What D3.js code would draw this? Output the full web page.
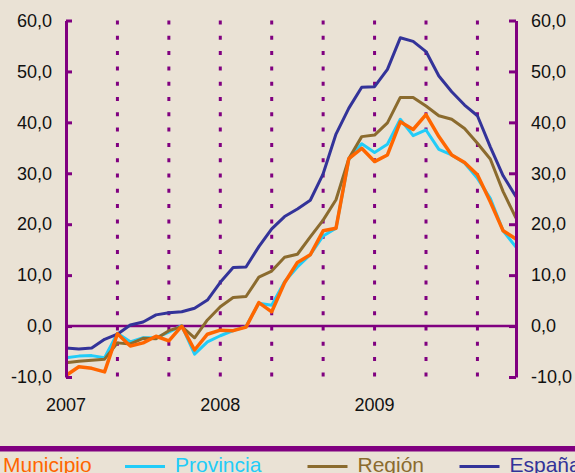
<!doctype html>
<html lang="es">
<head>
  <meta charset="utf-8">
  <title>Variación interanual</title>
  <script src="https://cdnjs.cloudflare.com/ajax/libs/d3/7.8.5/d3.min.js"></script>
  <style>
    body { margin: 0; background: #EAE2D5; overflow: hidden; }
    svg { display: block; font-family: "Liberation Sans", Arial, sans-serif; }
  </style>
</head>
<body>
  <svg width="575" height="473" id="svg"></svg>

<script type="text/javascript">

  // months jan 2007 .. dec 2009
  var months = ["ene-07","feb-07","mar-07","abr-07","may-07","jun-07","jul-07","ago-07","sep-07","oct-07","nov-07","dic-07",
                "ene-08","feb-08","mar-08","abr-08","may-08","jun-08","jul-08","ago-08","sep-08","oct-08","nov-08","dic-08",
                "ene-09","feb-09","mar-09","abr-09","may-09","jun-09","jul-09","ago-09","sep-09","oct-09","nov-09","dic-09"];

  var yearLabels = ["2007", "2008", "2009"];
  var yearMonths = ["ene-07", "ene-08", "ene-09"];
  var gridMonths = ["may-07","sep-07","ene-08","may-08","sep-08","ene-09","may-09","sep-09"];
  var yTicks = [-10, 0, 10, 20, 30, 40, 50, 60];

  var municipio = [-9.7, -8.0, -8.3, -9.0, -1.5, -3.9, -3.3, -2.0, -2.9, 0.0, -4.7, -1.6,
                   -0.8, -0.9, -0.2, 4.6, 2.8, 8.5, 12.5, 14.0, 18.7, 19.2, 32.9, 34.9,
                   32.3, 33.6, 40.1, 38.6, 41.5, 37.2, 33.6, 32.1, 29.7, 24.4, 18.7, 17.1];
  var provincia = [-6.2, -5.9, -5.8, -6.2, -1.4, -3.1, -2.3, -2.3, -1.2, 0.1, -5.5, -3.1,
                   -1.9, -0.9, -0.1, 4.5, 4.1, 8.7, 11.6, 14.0, 17.7, 19.2, 32.7, 35.8,
                   34.1, 35.7, 40.6, 37.4, 38.5, 34.7, 33.6, 32.0, 29.0, 25.1, 18.7, 15.5];
  var region    = [-7.2, -6.9, -6.7, -6.5, -3.3, -3.5, -2.4, -2.5, -0.9, -0.1, -2.3, 1.2,
                   3.8, 5.6, 5.8, 9.6, 10.8, 13.5, 14.1, 17.5, 20.8, 24.8, 32.9, 37.2,
                   37.5, 39.9, 44.9, 44.9, 43.2, 41.3, 40.6, 38.8, 35.9, 32.8, 26.4, 21.2];
  var espana    = [-4.3, -4.5, -4.3, -2.6, -1.6, 0.2, 0.8, 2.2, 2.6, 2.8, 3.5, 5.1,
                   8.6, 11.5, 11.6, 15.6, 19.1, 21.5, 23.0, 24.7, 29.9, 37.7, 42.8, 46.9,
                   47.0, 50.4, 56.6, 55.9, 53.9, 49.1, 46.0, 43.4, 41.3, 35.2, 29.5, 25.4];

  var seriesNames = ["Municipio", "Provincia", "Región", "España"];

  var purple = "#800080";
  var colors = { "Municipio": "#FF6600", "Provincia": "#22CCF8", "Región": "#8B6B2E", "España": "#333399" };
  var widths = { "Municipio": 3.5, "Provincia": 3, "Región": 3, "España": 3 };

  var series = [
    { name: "Provincia", values: provincia },
    { name: "Región", values: region },
    { name: "España", values: espana },
    { name: "Municipio", values: municipio }
  ];

  var svg = d3.select('#svg');

  var x = d3.scalePoint().domain(months).range([66, 516]);
  var y = d3.scaleLinear().domain([-10, 60]).range([377, 20.5]);

  // spanish decimal comma, plain hyphen for negatives
  var fmt = function(d) { return d3.format(".1f")(d).replace(".", ",").replace("\u2212", "-"); };

  // dotted separators every four months
  svg.selectAll('line.grid')
    .data(gridMonths)
    .enter()
    .append('line')
    .attr('class', 'grid')
    .attr('x1', function(d) { return x(d); })
    .attr('x2', function(d) { return x(d); })
    .attr('y1', y(60))
    .attr('y2', y(-10))
    .attr('stroke', purple)
    .attr('stroke-width', 3)
    .attr('stroke-dasharray', '4,11.3');

  // zero line
  svg.append('line')
    .attr('x1', x.range()[0]).attr('x2', x.range()[1])
    .attr('y1', y(0)).attr('y2', y(0))
    .attr('stroke', purple)
    .attr('stroke-width', 2.5);

  // series
  var line = d3.line()
    .x(function(d, i) { return x(months[i]); })
    .y(function(d) { return y(d); });

  svg.selectAll('path.serie')
    .data(series)
    .enter()
    .append('path')
    .attr('class', 'serie')
    .attr('d', function(d) { return line(d.values); })
    .attr('fill', 'none')
    .attr('stroke', function(d) { return colors[d.name]; })
    .attr('stroke-width', function(d) { return widths[d.name]; })
    .attr('stroke-linejoin', 'round');

  // axes
  var leftAxis = d3.axisLeft(y).tickValues(yTicks).tickFormat(fmt)
    .tickSizeInner(-6).tickSizeOuter(0).tickPadding(14);
  var rightAxis = d3.axisRight(y).tickValues(yTicks).tickFormat(fmt)
    .tickSizeInner(-7).tickSizeOuter(0).tickPadding(15);

  var gl = svg.append('g').attr('transform', 'translate(' + x.range()[0] + ',0)').call(leftAxis);
  var gr = svg.append('g').attr('transform', 'translate(' + x.range()[1] + ',0)').call(rightAxis);

  [gl, gr].forEach(function(g) {
    g.select('.domain').attr('stroke', purple).attr('stroke-width', 3);
    g.selectAll('.tick line').attr('stroke', purple).attr('stroke-width', 3);
    g.selectAll('.tick text')
      .attr('fill', '#111')
      .style('font-size', '18px')
      .style('font-family', '"Liberation Sans", Arial, sans-serif');
  });

  // year labels
  svg.selectAll('text.year')
    .data(yearLabels)
    .enter()
    .append('text')
    .attr('class', 'year')
    .attr('x', function(d, i) { return x(yearMonths[i]); })
    .attr('y', 411)
    .attr('text-anchor', 'middle')
    .attr('fill', '#111')
    .style('font-size', '18px')
    .text(function(d) { return d; });

  // legend band
  svg.append('rect')
    .attr('x', 0).attr('y', 446)
    .attr('width', 575).attr('height', 5.5)
    .attr('fill', purple);

  var legendX = [3, 175, 357.5, 509.5];

  var leg = svg.selectAll('g.leg')
    .data(seriesNames)
    .enter()
    .append('g')
    .attr('class', 'leg')
    .attr('transform', function(d, i) { return 'translate(' + legendX[i] + ',0)'; });

  leg.append('line')
    .attr('x1', -50).attr('x2', -10)
    .attr('y1', 466.5).attr('y2', 466.5)
    .attr('stroke', function(d) { return colors[d]; })
    .attr('stroke-width', 3);

  leg.append('text')
    .attr('x', 0)
    .attr('y', 471.5)
    .attr('fill', function(d) { return colors[d]; })
    .style('font-size', '21px')
    .text(function(d) { return d; });

</script>
</body>
</html>
